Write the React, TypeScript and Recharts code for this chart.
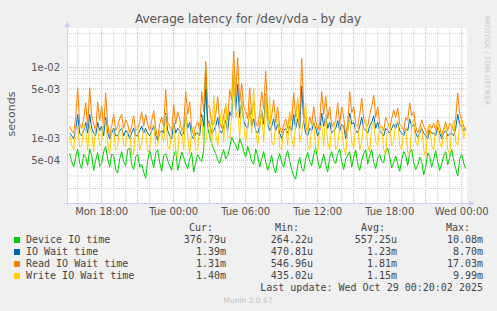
import { CartesianGrid, Line, LineChart, ReferenceLine, XAxis, YAxis } from "recharts";

// samples every 10 minutes starting Mon 15:20 (hours since Mon 00:00)
const START_HOUR = 15 + 20 / 60;
const STEP_HOURS = 10 / 60;

// values in milliseconds
const deviceIo = [
  0.62, 0.48, 0.4, 0.55, 0.71, 0.45, 0.38, 0.6, 0.55, 0.42, 0.72, 0.58, 0.36, 0.5, 0.64, 0.41, 0.45, 0.66, 0.78, 0.52,
  0.4, 0.61, 0.58, 0.37, 0.33, 0.52, 0.66, 0.47, 0.42, 0.7, 0.74, 0.44, 0.37, 0.56, 0.6, 0.4, 0.44, 0.34, 0.28, 0.49,
  0.68, 0.52, 0.39, 0.63, 0.7, 0.46, 0.35, 0.58, 0.62, 0.5, 0.42, 0.36, 0.57, 0.7, 0.36, 0.48, 0.65, 0.55, 0.44, 0.38,
  0.52, 0.64, 0.34, 0.46, 0.6, 0.52, 0.48, 0.7, 10.08, 1.4, 1.1, 0.85, 0.72, 0.62, 0.5, 0.45, 0.58, 0.7, 0.52, 0.58,
  0.75, 1.05, 0.9, 0.82, 0.68, 1.0, 0.85, 0.66, 0.55, 0.78, 0.62, 0.48, 0.44, 0.72, 0.58, 0.4, 0.52, 0.66, 0.47, 0.36,
  0.45, 0.58, 0.4, 0.33, 0.5, 0.62, 0.46, 0.4, 0.55, 0.68, 0.48, 0.37, 0.3, 0.27, 0.42, 0.55, 0.38, 0.35, 0.52, 0.64,
  0.48, 0.42, 0.6, 0.75, 0.5, 0.38, 0.46, 0.6, 0.43, 0.34, 0.55, 0.66, 0.5, 0.45, 0.62, 0.72, 0.48, 0.37, 0.52, 0.58,
  0.66, 0.4, 0.55, 0.69, 0.44, 0.36, 0.5, 0.62, 0.7, 0.44, 0.58, 0.7, 0.46, 0.38, 0.54, 0.6, 0.48, 0.46, 0.66, 0.74,
  0.55, 0.39, 0.46, 0.57, 0.44, 0.35, 0.51, 0.66, 0.58, 0.42, 0.64, 0.71, 0.46, 0.37, 0.42, 0.55, 0.48, 0.31, 0.4, 0.63,
  0.56, 0.4, 0.52, 0.68, 0.47, 0.36, 0.44, 0.58, 0.66, 0.43, 0.55, 0.7, 0.5, 0.38, 0.3, 0.52, 0.6, 0.45, 0.38,
];
const ioWait = [
  1.2, 1.1, 1.0, 1.3, 2.2, 1.2, 1.1, 1.3, 1.7, 1.2, 2.2, 1.4, 1.2, 1.1, 1.7, 1.3, 1.5, 1.1, 2.0, 1.2,
  1.0, 1.2, 1.4, 1.1, 1.1, 1.3, 1.4, 1.1, 1.3, 1.2, 1.0, 1.2, 1.4, 1.1, 1.1, 1.3, 1.5, 1.2, 1.4, 1.2,
  1.1, 1.3, 1.5, 1.1, 0.95, 1.2, 1.3, 1.2, 2.3, 1.3, 1.1, 1.0, 1.7, 1.2, 1.4, 1.3, 1.1, 1.2, 2.2, 1.4,
  1.7, 1.1, 1.0, 1.2, 1.2, 1.1, 2.2, 1.5, 5.0, 1.8, 1.6, 1.2, 1.3, 1.5, 2.0, 1.3, 1.2, 1.5, 1.8, 1.3,
  2.4, 2.0, 8.7, 2.5, 5.8, 2.0, 3.3, 1.8, 1.5, 1.4, 2.6, 1.5, 1.9, 1.3, 1.2, 1.5, 2.4, 1.6, 4.2, 1.6,
  1.3, 1.5, 1.9, 1.3, 1.6, 1.2, 1.0, 1.3, 1.4, 1.2, 1.5, 1.3, 2.2, 1.4, 1.9, 1.4, 5.5, 1.7, 1.2, 1.1,
  1.4, 1.3, 1.7, 1.4, 1.1, 1.3, 2.3, 1.5, 2.1, 1.4, 1.7, 1.2, 1.3, 1.4, 1.8, 1.3, 1.6, 1.5, 1.0, 1.3,
  2.3, 1.6, 1.7, 1.3, 1.2, 1.5, 2.0, 1.4, 1.3, 1.2, 1.5, 1.7, 2.1, 1.4, 1.7, 1.3, 1.2, 1.1, 1.4, 1.3,
  1.2, 1.4, 1.6, 1.4, 1.7, 1.3, 1.2, 1.1, 1.4, 1.3, 1.9, 1.5, 1.6, 1.2, 1.05, 1.2, 1.4, 1.2, 1.1, 1.0,
  1.3, 1.2, 1.2, 1.1, 1.45, 1.2, 1.0, 1.2, 1.3, 1.1, 1.15, 1.2, 1.1, 1.4, 2.2, 1.6, 1.5, 1.3, 1.39,
];
const readWait = [
  1.5, 1.3, 1.2, 2.0, 5.2, 1.6, 1.4, 1.9, 3.2, 1.5, 5.2, 2.1, 1.6, 1.3, 3.3, 1.8, 2.9, 1.4, 4.4, 1.6,
  1.1, 1.5, 2.2, 1.3, 1.5, 1.9, 2.2, 1.4, 1.85, 1.6, 1.2, 1.5, 2.1, 1.3, 1.4, 1.7, 2.4, 1.5, 2.2, 1.6,
  1.3, 1.8, 2.5, 1.4, 1.0, 1.6, 2.0, 1.5, 4.9, 1.7, 1.5, 1.3, 3.0, 1.6, 2.4, 1.9, 1.3, 1.5, 4.6, 2.2,
  3.3, 1.4, 1.1, 1.5, 1.75, 1.3, 4.6, 2.4, 12.2, 3.0, 2.7, 1.6, 1.6, 2.2, 3.9, 1.7, 1.4, 2.1, 3.0, 1.8,
  4.9, 3.5, 17.03, 4.0, 13.7, 3.2, 6.1, 2.8, 2.4, 1.9, 5.2, 2.2, 3.3, 1.7, 1.5, 2.3, 4.6, 2.6, 9.0, 2.4,
  1.6, 2.1, 3.5, 1.7, 2.8, 1.5, 1.2, 1.6, 1.9, 1.4, 2.3, 1.8, 4.4, 2.0, 3.5, 1.9, 13.5, 2.6, 1.5, 1.3,
  2.05, 1.6, 2.8, 1.8, 1.3, 1.7, 4.6, 2.2, 3.9, 1.9, 2.8, 1.5, 1.5, 1.8, 3.2, 1.6, 2.8, 2.0, 1.1, 1.7,
  4.6, 2.3, 2.8, 1.6, 1.5, 2.2, 3.7, 1.9, 1.6, 1.5, 2.2, 2.8, 4.1, 2.0, 2.8, 1.6, 1.5, 1.3, 2.0, 1.7,
  1.4, 1.9, 2.55, 2.0, 2.7, 1.6, 1.5, 1.3, 2.0, 1.8, 3.2, 2.1, 2.4, 1.5, 1.2, 1.4, 1.85, 1.5, 1.3, 1.1,
  1.6, 1.4, 1.66, 1.3, 1.85, 1.5, 1.1, 1.4, 1.7, 1.3, 1.66, 1.5, 1.3, 2.0, 4.4, 2.2, 1.85, 1.5, 1.31,
];
const writeWait = [
  1.1, 0.8, 0.7, 1.4, 1.5, 0.75, 0.8, 1.6, 1.3, 0.7, 1.6, 1.2, 0.65, 1.5, 1.4, 0.8, 0.9, 1.7, 1.8, 0.9,
  0.6, 1.4, 1.3, 0.7, 0.75, 1.6, 1.5, 0.8, 0.8, 1.3, 1.2, 0.6, 0.62, 1.5, 1.45, 0.7, 0.85, 1.4, 1.3, 0.65,
  0.7, 1.5, 1.6, 0.8, 0.8, 1.3, 1.2, 0.9, 2.2, 0.8, 0.7, 1.4, 1.7, 0.6, 0.55, 1.6, 1.4, 0.7, 2.4, 1.1,
  0.6, 1.3, 1.5, 0.7, 0.7, 1.6, 2.0, 0.8, 0.9, 1.4, 1.8, 0.8, 4.1, 1.2, 0.8, 1.5, 2.6, 0.9, 3.2, 1.1,
  1.0, 2.2, 9.99, 2.0, 2.5, 1.0, 4.0, 1.6, 0.9, 1.5, 2.8, 1.2, 5.1, 1.3, 0.8, 1.4, 2.6, 0.9, 4.1, 1.5,
  3.8, 0.9, 0.8, 1.6, 1.9, 0.75, 0.7, 1.5, 1.6, 0.8, 2.4, 1.0, 0.75, 1.6, 3.7, 0.9, 1.2, 2.0, 3.2, 0.8,
  0.7, 1.5, 1.8, 0.7, 0.65, 1.4, 1.6, 0.8, 2.2, 0.9, 0.7, 1.5, 1.7, 0.7, 0.8, 1.6, 1.5, 0.75, 0.6, 1.4,
  2.0, 0.9, 0.75, 1.5, 1.6, 0.7, 0.9, 1.7, 1.9, 0.8, 0.65, 1.5, 1.7, 0.9, 0.8, 1.4, 1.5, 0.7, 0.6, 1.5,
  1.6, 0.8, 0.9, 1.7, 1.8, 0.8, 0.7, 1.3, 1.4, 0.65, 0.6, 1.6, 1.9, 0.9, 0.8, 1.3, 1.5, 0.7, 0.55, 1.4,
  1.6, 0.8, 0.7, 1.5, 1.7, 0.9, 0.75, 1.3, 1.5, 0.7, 0.6, 1.4, 1.8, 0.9, 0.8, 1.6, 1.9, 1.0, 1.4,
];

const xTicks = [18, 24, 30, 36, 42, 48];
const xTickLabels = ["Mon 18:00", "Tue 00:00", "Tue 06:00", "Tue 12:00", "Tue 18:00", "Wed 00:00"];
const yTicks = [0.0005, 0.001, 0.005, 0.01];
const yTickLabels = ["5e-04", "1e-03", "5e-03", "1e-02"];
const yMinor = [0.0002, 0.0003, 0.0004, 0.0006, 0.0007, 0.0008, 0.0009, 0.002, 0.003, 0.004, 0.006, 0.007, 0.008, 0.009, 0.02, 0.03];
const hourLines = [16, 17, 19, 20, 22, 23, 25, 26, 28, 29, 31, 32, 34, 35, 37, 38, 40, 41, 43, 44, 46, 47];
const threeHourLines = [18, 21, 24, 27, 30, 33, 36, 39, 42, 45, 48];

const legendRows = [
  { name: "Device IO time", color: "#00cc00", cur: "376.79u", min: "264.22u", avg: "557.25u", max: "10.08m" },
  { name: "IO Wait time", color: "#0066b3", cur: "1.39m", min: "470.81u", avg: "1.23m", max: "8.70m" },
  { name: "Read IO Wait time", color: "#ff8000", cur: "1.31m", min: "546.96u", avg: "1.81m", max: "17.03m" },
  { name: "Write IO Wait time", color: "#ffcc00", cur: "1.40m", min: "435.02u", avg: "1.15m", max: "9.99m" },
];

const data = deviceIo.map((v, i) => ({
  t: START_HOUR + i * STEP_HOURS,
  device: v / 1000,
  iowait: ioWait[i] / 1000,
  read: readWait[i] / 1000,
  write: writeWait[i] / 1000,
}));

const SANS = "'DejaVu Sans', sans-serif";
const MONO = "'DejaVu Sans Mono', monospace";
const AXIS_BLUE = "#c8d2f4";

export default function App() {
  return (
    <div style={{ position: "absolute", left: 0, top: 0, width: 497, height: 311, background: "#f0f0f0" }}>
      <LineChart width={497} height={311} data={data} margin={{ top: 28, right: 30, bottom: 0, left: 0 }}>
        <CartesianGrid fill="#ffffff" horizontal={false} vertical={false} />
        {hourLines.map((h) => (
          <ReferenceLine key={"h" + h} x={h} stroke="#cfcfcf" strokeDasharray="1 1" />
        ))}
        {threeHourLines.map((h) => (
          <ReferenceLine key={"r" + h} x={h} stroke="#e3a3a3" strokeDasharray="1 1" />
        ))}
        {yMinor.map((v) => (
          <ReferenceLine key={"m" + v} y={v} stroke="#cfcfcf" strokeDasharray="1 1" />
        ))}
        {yTicks.map((v) => (
          <ReferenceLine key={"M" + v} y={v} stroke="#e3a3a3" strokeDasharray="1 1" />
        ))}
        <XAxis
          dataKey="t"
          type="number"
          domain={[15.11, 48.44]}
          ticks={xTicks}
          tickFormatter={(v) => xTickLabels[xTicks.indexOf(v)]}
          axisLine={false}
          tickLine={false}
          tickSize={3}
          tickMargin={2}
          height={108}
          tick={{ fontSize: 10, fill: "#555", fontFamily: SANS }}
        />
        <YAxis
          scale="log"
          domain={[0.000125, 0.036]}
          allowDataOverflow
          ticks={yTicks}
          tickFormatter={(v) => yTickLabels[yTicks.indexOf(v)]}
          axisLine={false}
          tickLine={false}
          tickSize={5}
          tickMargin={2}
          width={67}
          tick={{ fontSize: 10, fill: "#555", fontFamily: SANS }}
        />
        <Line dataKey="device" stroke="#00cc00" strokeWidth={1} dot={false} isAnimationActive={false} />
        <Line dataKey="iowait" stroke="#0066b3" strokeWidth={1} dot={false} isAnimationActive={false} />
        <Line dataKey="read" stroke="#ff8000" strokeWidth={1} dot={false} isAnimationActive={false} />
        <Line dataKey="write" stroke="#ffcc00" strokeWidth={1} dot={false} isAnimationActive={false} />
      </LineChart>
      <svg width={497} height={311} style={{ position: "absolute", left: 0, top: 0, pointerEvents: "none" }}>
        {/* axes with arrows */}
        <line x1={67.5} y1={206} x2={67.5} y2={26} stroke={AXIS_BLUE} />
        <polygon points="64.5,27 70.5,27 67.5,21" fill={AXIS_BLUE} />
        <line x1={64} y1={203.5} x2={469} y2={203.5} stroke={AXIS_BLUE} />
        <polygon points="469,200.5 469,206.5 475,203.5" fill={AXIS_BLUE} />

        <text x={248} y={23} textAnchor="middle" fontFamily={SANS} fontSize={12} fill="#555">
          Average latency for /dev/vda - by day
        </text>
        <text x={15} y={114} transform="rotate(-90 15 114)" textAnchor="middle" fontFamily={SANS} fontSize={11} fill="#555">
          seconds
        </text>
        <text x={485} y={60} transform="rotate(90 485 60)" textAnchor="middle" fontFamily={SANS} fontSize={7} fill="#c8c8c8">
          RRDTOOL / TOBI OETIKER
        </text>

        <g fontFamily={MONO} fontSize={10} fill="#444">
          <text x={213} y={231} textAnchor="end">Cur:</text>
          <text x={299} y={231} textAnchor="end">Min:</text>
          <text x={385} y={231} textAnchor="end">Avg:</text>
          <text x={470} y={231} textAnchor="end">Max:</text>
          {legendRows.map((r, i) => (
            <g key={r.name}>
              <rect x={14} y={237 + i * 12} width={6} height={6} fill={r.color} />
              <text x={26} y={243 + i * 12}>{r.name}</text>
              <text x={226} y={243 + i * 12} textAnchor="end">{r.cur}</text>
              <text x={313} y={243 + i * 12} textAnchor="end">{r.min}</text>
              <text x={397} y={243 + i * 12} textAnchor="end">{r.avg}</text>
              <text x={483} y={243 + i * 12} textAnchor="end">{r.max}</text>
            </g>
          ))}
          <text x={483} y={291} textAnchor="end">Last update: Wed Oct 29 00:20:02 2025</text>
        </g>
        <text x={248} y={303} textAnchor="middle" fontFamily={SANS} fontSize={7.5} fill="#c0c0c0">
          Munin 2.0.67
        </text>
      </svg>
    </div>
  );
}
